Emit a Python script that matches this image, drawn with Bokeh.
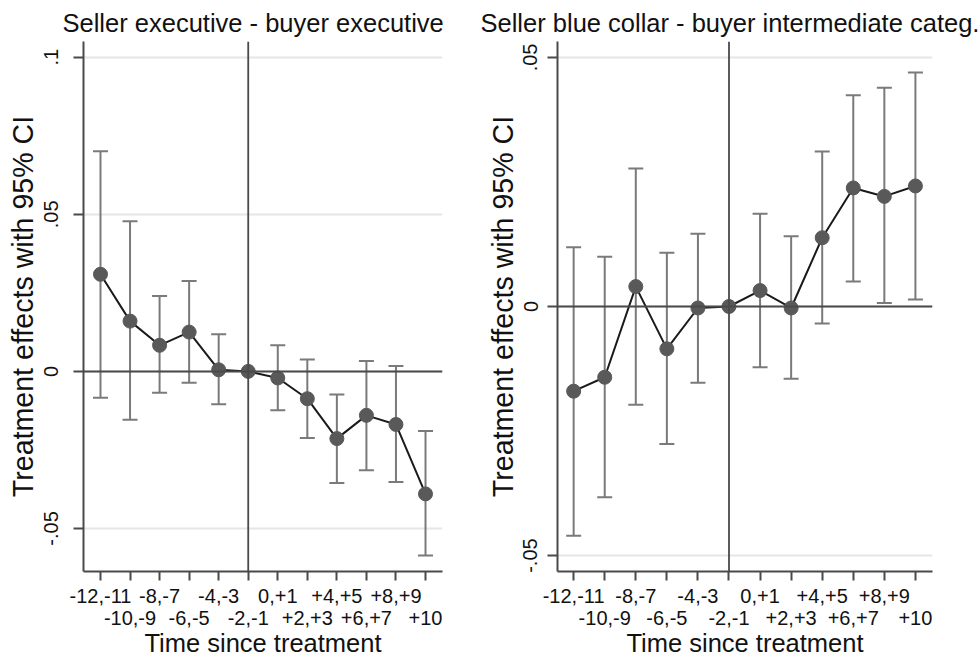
import numpy as np
from bokeh.plotting import figure
from bokeh.layouts import row
from bokeh.models import FixedTicker, Span, ColumnDataSource, Range1d, Whisker, TeeHead
from bokeh.embed import file_html
from bokeh.resources import INLINE

# ---- data ----
periods = ["-12,-11", "-10,-9", "-8,-7", "-6,-5", "-4,-3", "-2,-1",
           "0,+1", "+2,+3", "+4,+5", "+6,+7", "+8,+9", "+10"]
ref_period = "-2,-1"

exec_title = "Seller executive - buyer executive"
exec_est = [0.0309, 0.0160, 0.0083, 0.0125, 0.0005, 0.0, -0.0021, -0.0087, -0.0214, -0.0140, -0.0169, -0.0390]
exec_lo = [-0.0084, -0.0154, -0.0068, -0.0036, -0.0105, np.nan, -0.0124, -0.0212, -0.0355, -0.0315, -0.0352, -0.0586]
exec_hi = [0.0701, 0.0478, 0.0240, 0.0288, 0.0118, np.nan, 0.0083, 0.0038, -0.0074, 0.0033, 0.0017, -0.0190]
exec_yticks = [-0.05, 0, 0.05, 0.1]
exec_ylabels = ["-.05", "0", ".05", ".1"]

blue_title = "Seller blue collar - buyer intermediate categ."
blue_est = [-0.0170, -0.0142, 0.0040, -0.0085, -0.0003, 0.0, 0.0032, -0.0003, 0.0138, 0.0238, 0.0221, 0.0242]
blue_lo = [-0.0460, -0.0383, -0.0197, -0.0276, -0.0153, np.nan, -0.0122, -0.0145, -0.0034, 0.0050, 0.0007, 0.0014]
blue_hi = [0.0119, 0.0100, 0.0277, 0.0108, 0.0146, np.nan, 0.0186, 0.0141, 0.0311, 0.0424, 0.0439, 0.0470]
blue_yticks = [-0.05, 0, 0.05]
blue_ylabels = ["-.05", "0", ".05"]

FONT = "Liberation Sans"
AXIS_COL = "#4a4a4a"
TXT_COL = "#111111"
H = 662


def make_panel(title, est, lo, hi, yticks, ylabels, yrange, xrange, width, bl, br,
               title_offset, ylab_standoff, ytitle_standoff):
    n = len(periods)
    xs = np.arange(n)
    p = figure(width=width, height=H, output_backend="svg", toolbar_location=None,
               x_range=Range1d(*xrange), y_range=Range1d(*yrange),
               min_border_left=bl, min_border_right=br, min_border_top=41, min_border_bottom=H - 571)
    p.outline_line_color = None
    p.background_fill_color = "white"
    p.border_fill_color = "white"

    p.title.text = title
    p.title.align = "left"
    p.title.offset = title_offset
    p.title.text_font = FONT
    p.title.text_font_size = "25.5px"
    p.title.text_font_style = "normal"
    p.title.text_color = TXT_COL
    p.title.standoff = 10

    # grid
    p.xgrid.visible = False
    p.ygrid.ticker = FixedTicker(ticks=yticks)
    p.ygrid.grid_line_color = "#e6e6e6"
    p.ygrid.grid_line_width = 2

    # axes
    xa = p.xaxis[0]
    xa.ticker = FixedTicker(ticks=list(xs))
    xa.major_label_overrides = {int(i): (lab if i % 2 == 0 else "\n" + lab) for i, lab in enumerate(periods)}
    xa.major_label_text_line_height = 1.03
    ya = p.yaxis[0]
    ya.ticker = FixedTicker(ticks=yticks)
    ya.major_label_overrides = {t: l for t, l in zip(yticks, ylabels)}
    ya.major_label_orientation = "vertical"
    for ax in (xa, ya):
        ax.axis_line_color = AXIS_COL
        ax.axis_line_width = 2
        ax.major_tick_line_color = AXIS_COL
        ax.major_tick_line_width = 2
        ax.major_tick_in = 0
        ax.minor_tick_line_color = None
        ax.major_label_text_font = FONT
        ax.major_label_text_font_size = "20px"
        ax.major_label_text_color = TXT_COL
        ax.axis_label_text_font = FONT
        ax.axis_label_text_font_style = "normal"
        ax.axis_label_text_color = TXT_COL
    xa.major_tick_out = 9
    ya.major_tick_out = 10
    xa.major_label_standoff = 4
    ya.major_label_standoff = ylab_standoff
    xa.axis_label = "Time since treatment"
    ya.axis_label = "Treatment effects with 95% CI"
    xa.axis_label_text_font_size = "25.5px"
    ya.axis_label_text_font_size = "28.6px"
    xa.axis_label_standoff = -3
    ya.axis_label_standoff = ytitle_standoff

    # reference lines
    p.add_layout(Span(location=0, dimension="width", line_color=AXIS_COL, line_width=2))
    p.add_layout(Span(location=periods.index(ref_period), dimension="height", line_color=AXIS_COL, line_width=1.8))

    # confidence intervals
    lo_a = np.array(lo, dtype=float)
    hi_a = np.array(hi, dtype=float)
    ok = ~np.isnan(lo_a)
    ci_src = ColumnDataSource(dict(x=xs[ok], lo=lo_a[ok], hi=hi_a[ok]))
    w = Whisker(source=ci_src, base="x", lower="lo", upper="hi", dimension="height",
                line_color="#7a7a7a", line_width=2,
                upper_head=TeeHead(size=15, line_color="#7a7a7a", line_width=2),
                lower_head=TeeHead(size=15, line_color="#7a7a7a", line_width=2))
    p.add_layout(w)

    src = ColumnDataSource(dict(x=xs, y=est))
    p.line("x", "y", source=src, line_color="#1a1a1a", line_width=2)
    p.scatter("x", "y", source=src, size=14, fill_color="#595959", line_color="#595959")
    return p


p1 = make_panel(exec_title, exec_est, exec_lo, exec_hi, exec_yticks, exec_ylabels,
                (-0.0637, 0.105), (-0.575, 11.575), 477, 83, 35, -21, 15, 3)
p2 = make_panel(blue_title, blue_est, blue_lo, blue_hi, blue_yticks, blue_ylabels,
                (-0.0532, 0.0532), (-0.52, 11.55), 502, 80, 47, -77, 10, 2)

layout = row(p1, p2)
open("out.html", "w").write(file_html(layout, INLINE))
